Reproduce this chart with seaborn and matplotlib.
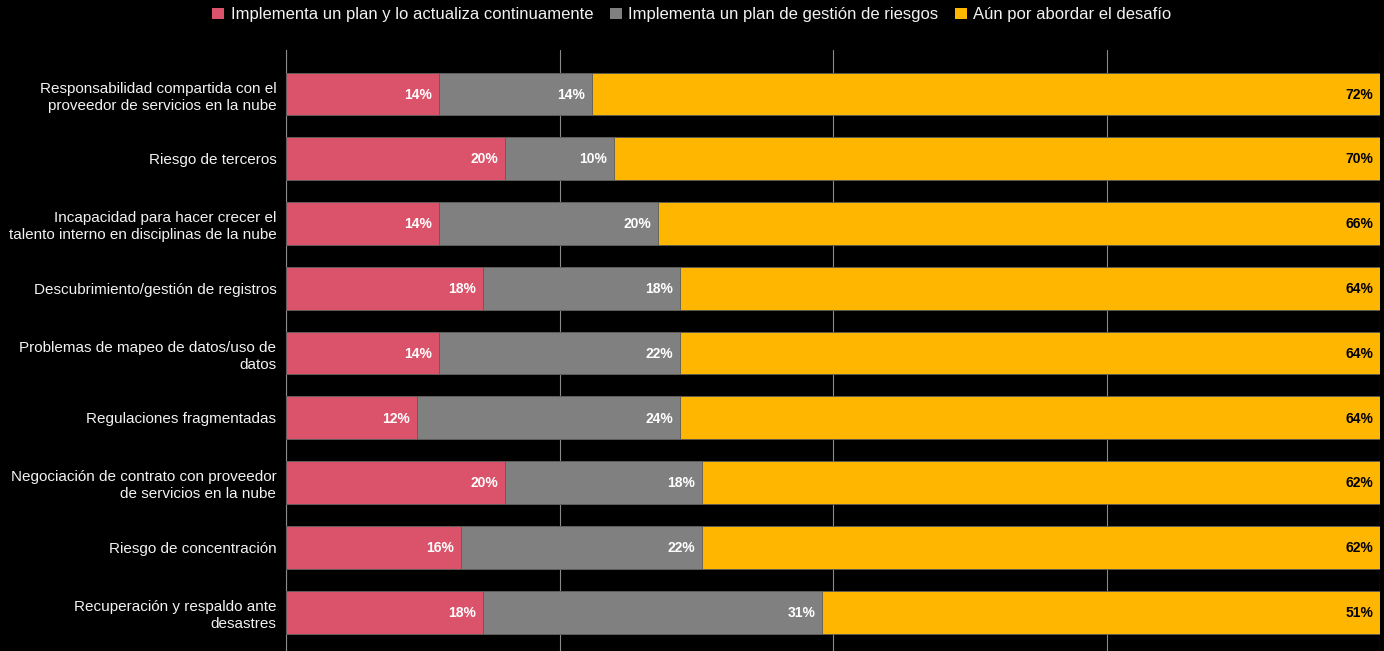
import matplotlib
matplotlib.use("Agg")
import matplotlib.pyplot as plt
import seaborn as sns
import pandas as pd
import numpy as np
from matplotlib.patches import Patch

categories = [
    "Responsabilidad compartida con el\nproveedor de servicios en la nube",
    "Riesgo de terceros",
    "Incapacidad para hacer crecer el\ntalento interno en disciplinas de la nube",
    "Descubrimiento/gestión de registros",
    "Problemas de mapeo de datos/uso de\ndatos",
    "Regulaciones fragmentadas",
    "Negociación de contrato con proveedor\nde servicios en la nube",
    "Riesgo de concentración",
    "Recuperación y respaldo ante\ndesastres",
]
series_names = [
    "Implementa un plan y lo actualiza continuamente",
    "Implementa un plan de gestión de riesgos",
    "Aún por abordar el desafío",
]
plan_actualiza = [14, 20, 14, 18, 14, 12, 20, 16, 18]
plan_riesgos = [14, 10, 20, 18, 22, 24, 18, 22, 31]
por_abordar = [72, 70, 66, 64, 64, 64, 62, 62, 51]

colors = ["#DB536A", "#808080", "#FFB600"]
label_colors = ["white", "white", "black"]

sns.set_theme(style="dark")
plt.rcParams["font.family"] = ["Liberation Sans", "DejaVu Sans"]

fig = plt.figure(figsize=(13.84, 6.51), dpi=100, facecolor="black")
ax = fig.add_axes([286/1384, 0.0, (1380-286)/1384, 1 - 50/651])
ax.set_facecolor("black")

values = [plan_actualiza, plan_riesgos, por_abordar]
cums = np.cumsum(np.array(values), axis=0)

# draw from the full stack backwards so earlier segments overlay
for i in reversed(range(3)):
    df = pd.DataFrame({"cat": categories, "val": cums[i]})
    sns.barplot(data=df, x="val", y="cat", orient="h", color=colors[i],
                width=0.66, edgecolor="#5a5a5a", linewidth=0.6,
                saturation=1, ax=ax, zorder=3)

for i in range(3):
    for j, cat in enumerate(categories):
        ax.annotate(f"{values[i][j]}%", xy=(cums[i][j], j), xytext=(-5, -0.5),
                    textcoords="offset points", ha="right", va="center",
                    color=label_colors[i], fontsize=10, fontweight="bold",
                    zorder=5)

ax.set_xlim(0, 100)
ax.set_ylim(8.6, -0.68)
ax.set_xticks([0, 25, 50, 75, 100])
ax.set_xticklabels([])
ax.xaxis.grid(True, color="#8a8a8a", linewidth=0.8)
ax.yaxis.grid(False)
ax.set_axisbelow(True)
ax.set_xlabel("")
ax.set_ylabel("")
ax.tick_params(axis="y", colors="#f2f2f2", labelsize=11, length=0, pad=7)
ax.tick_params(axis="x", length=0)
for lab in ax.get_yticklabels():
    lab.set_ha("right")
    lab.set_multialignment("right")
    lab.set_linespacing(1.3)
for s in ["top", "right", "bottom"]:
    ax.spines[s].set_visible(False)
ax.spines["left"].set_color("#8a8a8a")
ax.spines["left"].set_linewidth(0.8)

handles = [Patch(facecolor=c, edgecolor="none") for c in colors]
leg = fig.legend(handles, series_names, loc="upper center", ncol=3,
                 bbox_to_anchor=(0.5, 1.012), frameon=False, fontsize=12,
                 handlelength=0.7, handleheight=0.7, handletextpad=0.4,
                 columnspacing=1.0, labelcolor="#f2f2f2")

fig.savefig("out.png", dpi=100, facecolor="black")
